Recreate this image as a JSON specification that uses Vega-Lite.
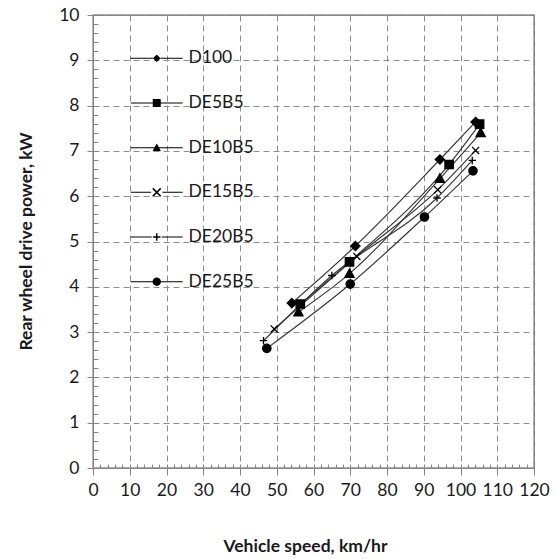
{
  "$schema": "https://vega.github.io/schema/vega-lite/v6.json",
  "autosize": {"type": "none"},
  "padding": {"left": 93, "top": 15, "right": 24, "bottom": 91},
  "width": 441,
  "height": 453,
  "background": "white",
  "config": {
    "font": "Lato",
    "view": {"stroke": "#5a5a5a", "strokeWidth": 1.3},
    "axis": {
      "labelFont": "Lato",
      "labelFontSize": 17.5,
      "labelColor": "#1a1a1a",
      "titleFont": "Lato",
      "titleFontSize": 17.5,
      "titleFontWeight": "bold",
      "titleColor": "#1a1a1a",
      "domainColor": "#868686",
      "tickColor": "#868686",
      "labelFlush": false,
      "labelOverlap": false
    }
  },
  "data": {
    "values": [
      {"fuel": "D100", "speed": 54.1, "power": 3.64},
      {"fuel": "D100", "speed": 71.4, "power": 4.90},
      {"fuel": "D100", "speed": 94.4, "power": 6.81},
      {"fuel": "D100", "speed": 104.1, "power": 7.64},
      {"fuel": "DE5B5", "speed": 56.4, "power": 3.62},
      {"fuel": "DE5B5", "speed": 69.8, "power": 4.55},
      {"fuel": "DE5B5", "speed": 96.9, "power": 6.70},
      {"fuel": "DE5B5", "speed": 105.2, "power": 7.59},
      {"fuel": "DE10B5", "speed": 55.9, "power": 3.44},
      {"fuel": "DE10B5", "speed": 69.8, "power": 4.29},
      {"fuel": "DE10B5", "speed": 94.4, "power": 6.39},
      {"fuel": "DE10B5", "speed": 105.5, "power": 7.40},
      {"fuel": "DE15B5", "speed": 49.3, "power": 3.07},
      {"fuel": "DE15B5", "speed": 71.8, "power": 4.67},
      {"fuel": "DE15B5", "speed": 93.8, "power": 6.14},
      {"fuel": "DE15B5", "speed": 104.1, "power": 7.01},
      {"fuel": "DE20B5", "speed": 46.4, "power": 2.81},
      {"fuel": "DE20B5", "speed": 65.0, "power": 4.25},
      {"fuel": "DE20B5", "speed": 93.6, "power": 5.96},
      {"fuel": "DE20B5", "speed": 103.2, "power": 6.79},
      {"fuel": "DE25B5", "speed": 47.3, "power": 2.64},
      {"fuel": "DE25B5", "speed": 70.0, "power": 4.06},
      {"fuel": "DE25B5", "speed": 90.2, "power": 5.54},
      {"fuel": "DE25B5", "speed": 103.4, "power": 6.56}
    ]
  },
  "layer": [
    {
      "mark": {"type": "line", "color": "#3a3a3a", "strokeWidth": 1.2, "interpolate": "monotone"},
      "encoding": {
        "x": {
          "field": "speed", "type": "quantitative",
          "scale": {"domain": [0, 120], "nice": false, "zero": true},
          "axis": {
            "tickCount": 12, "grid": true, "gridDash": [6, 4], "gridColor": "#8c8c8c", "gridWidth": 1,
            "tickSize": 7, "labelPadding": 6,
            "title": "Vehicle speed, km/hr", "titleX": 212, "titleY": 83, "titleBaseline": "alphabetic"
          }
        },
        "y": {
          "field": "power", "type": "quantitative",
          "scale": {"domain": [0, 10], "nice": false},
          "axis": {
            "tickCount": 10, "grid": true, "gridDash": [6, 4], "gridColor": "#8c8c8c", "gridWidth": 1,
            "tickSize": 6, "labelPadding": 8,
            "title": "Rear wheel drive power, kW", "titleX": -62, "titleY": 226, "titleBaseline": "alphabetic", "titleAngle": -90
          }
        },
        "detail": {"field": "fuel", "type": "nominal"}
      }
    },
    {
      "mark": {"type": "point", "filled": true, "color": "#000", "stroke": "#000", "strokeWidth": 1.3, "size": 70, "opacity": 1},
      "encoding": {
        "x": {
          "field": "speed", "type": "quantitative",
          "axis": {"orient": "bottom", "tickCount": 60, "labels": false, "grid": false, "domain": false, "tickSize": -4, "title": null}
        },
        "y": {
          "field": "power", "type": "quantitative",
          "axis": {"orient": "left", "tickCount": 50, "labels": false, "grid": false, "domain": false, "tickSize": -5, "title": null}
        },
        "shape": {
          "field": "fuel", "type": "nominal",
          "scale": {
            "domain": ["D100", "DE5B5", "DE10B5", "DE15B5", "DE20B5", "DE25B5"],
            "range": [
              "M0,-1.1L1.1,0L0,1.1L-1.1,0Z",
              "M-1,-1H1V1H-1Z",
              "M0,-1.15L1.1,0.9L-1.1,0.9Z",
              "M-0.85,-0.85L0.85,0.85M-0.85,0.85L0.85,-0.85",
              "M-0.9,0H0.9M0,-0.9V0.9",
              "M1,0A1,1,0,1,1,-1,0A1,1,0,1,1,1,0Z"
            ]
          },
          "legend": null
        }
      }
    },
    {
      "mark": {"type": "point", "filled": true, "color": "#000", "size": 70, "opacity": 0},
      "encoding": {
        "x": {"field": "speed", "type": "quantitative", "axis": null},
        "y": {"field": "power", "type": "quantitative", "axis": null},
        "shape": {
          "field": "fuel", "type": "nominal",
          "scale": {
            "domain": ["D100", "DE5B5", "DE10B5", "DE15B5", "DE20B5", "DE25B5"],
            "range": [
              "M0,-0.9L0.9,0L0,0.9L-0.9,0ZM-6.2,-0.12H-0.9V0.12H-6.2ZM0.9,-0.12H6.2V0.12H0.9Z",
              "M-0.95,-0.95H0.95V0.95H-0.95ZM-6.2,-0.12H-0.95V0.12H-6.2ZM0.95,-0.12H6.2V0.12H0.95Z",
              "M0,-1L1,0.8L-1,0.8ZM-6.2,-0.12H-0.5V0.12H-6.2ZM0.5,-0.12H6.2V0.12H0.5Z",
              "M-0.82,-1.08L1.08,0.82L0.82,1.08L-1.08,-0.82ZM-0.82,1.08L-1.08,0.82L0.82,-1.08L1.08,-0.82ZM-6.2,-0.12H-1.35V0.12H-6.2ZM1.35,-0.12H6.2V0.12H1.35Z",
              "M-0.9,-0.17H0.9V0.17H-0.9ZM-0.17,-0.9H0.17V0.9H-0.17ZM-6.2,-0.12H-1.2V0.12H-6.2ZM1.2,-0.12H6.2V0.12H1.2Z",
              "M1,0A1,1,0,1,1,-1,0A1,1,0,1,1,1,0ZM-6.2,-0.12H-0.98V0.12H-6.2ZM0.98,-0.12H6.2V0.12H0.98Z"
            ]
          },
          "legend": {
            "title": null,
            "orient": "none",
            "legendX": 55,
            "legendY": 34.5,
            "padding": 0,
            "symbolSize": 70,
            "symbolFillColor": "#000",
            "symbolStrokeColor": "#000",
            "symbolStrokeWidth": 0,
            "symbolOpacity": 1,
            "labelFont": "Lato",
            "labelFontSize": 17.5,
            "labelColor": "#1a1a1a",
            "labelOffset": 23,
            "rowPadding": 25.7
          }
        }
      }
    }
  ],
  "resolve": {
    "axis": {"x": "independent", "y": "independent"},
    "scale": {"shape": "independent"},
    "legend": {"shape": "independent"}
  }
}
